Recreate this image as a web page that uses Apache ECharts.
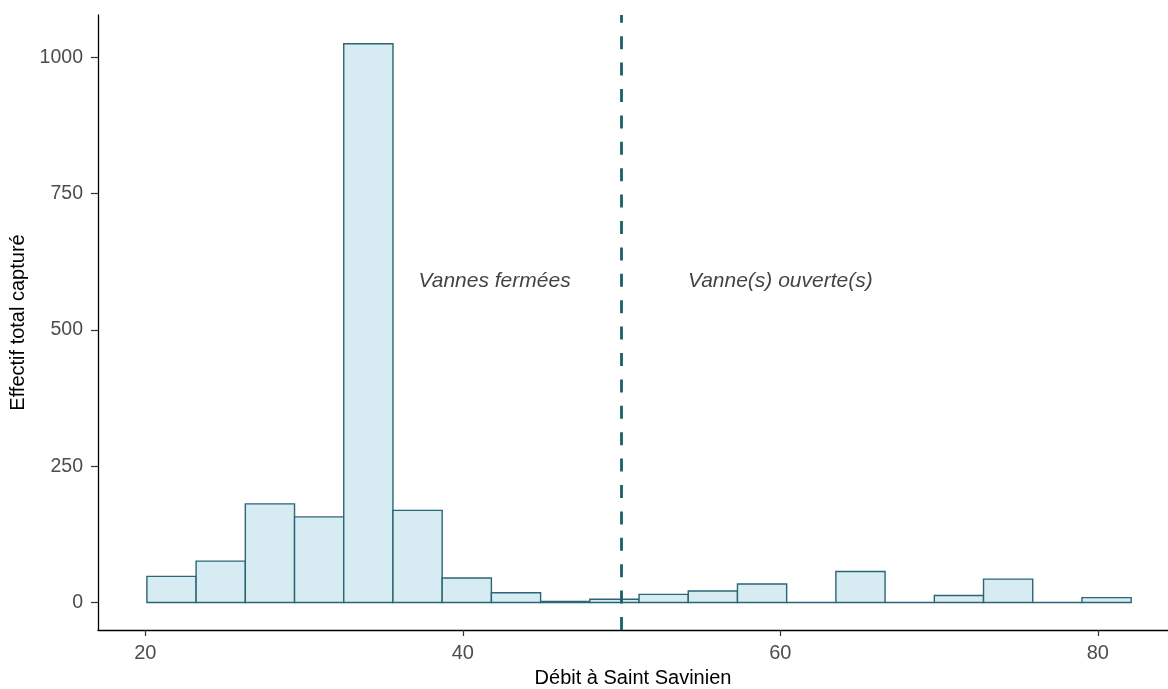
<!DOCTYPE html>
<html>
<head>
<meta charset="utf-8">
<script src="https://cdn.jsdelivr.net/npm/echarts@6/dist/echarts.min.js"></script>
<style>
html,body{margin:0;padding:0;background:#fff;}
#chart{width:1168px;height:689px;}
</style>
</head>
<body>
<div id="chart"></div>
<script>
// Histogram bin edges (Débit) and counts
const binEdges = [20.1, 23.2, 26.3, 29.4, 32.5, 35.6, 38.7, 41.8, 44.9, 48.0, 51.1,
                  54.2, 57.3, 60.4, 63.5, 66.6, 69.7, 72.8, 75.9, 79.0, 82.1];
const counts = [48, 76, 181, 157, 1025, 169, 45, 18, 2, 6,
                15, 21, 34, 0, 57, 0, 13, 43, 0, 9];
const xTicks = [20, 40, 60, 80];
const yTicks = [0, 250, 500, 750, 1000];
const thresholdX = 50;
const annoX = [42, 60];
const annoY = [590, 590];
const annoText = ['Vannes fermées', 'Vanne(s) ouverte(s)'];

const histData = counts.map((c, i) => [binEdges[i], binEdges[i + 1], c]);
const annoData = annoText.map((t, i) => [annoX[i], annoY[i], t]);

const chart = echarts.init(document.getElementById('chart'));
const font = 'Liberation Sans, Arial, sans-serif';
chart.setOption({
  animation: false,
  grid: { left: 98, right: 0, top: 15, bottom: 59, containLabel: false, outerBoundsMode: 'none' },
  xAxis: {
    type: 'value', min: 17.02, max: 84.42,
    name: 'Débit à Saint Savinien', nameLocation: 'middle', nameGap: 38,
    nameTextStyle: { fontFamily: font, fontSize: 20, color: '#000' },
    axisLine: { show: true, onZero: false, lineStyle: { color: '#000', width: 1.3 } },
    axisTick: { show: true, length: 6, customValues: xTicks, lineStyle: { color: '#333', width: 1.2 } },
    axisLabel: { customValues: xTicks, margin: 13, fontFamily: font, fontSize: 20, color: '#4d4d4d',
                 formatter: v => String(v) },
    splitLine: { show: false }
  },
  yAxis: {
    type: 'value', min: -50.4, max: 1077.6,
    name: 'Effectif total capturé', nameLocation: 'middle', nameGap: 54, nameRotate: 90,
    nameTextStyle: { fontFamily: font, fontSize: 20, color: '#000' },
    axisLine: { show: true, onZero: false, lineStyle: { color: '#000', width: 1.3 } },
    axisTick: { show: true, length: 7, customValues: yTicks, lineStyle: { color: '#333', width: 1.2 } },
    axisLabel: { customValues: yTicks, margin: 15, fontFamily: font, fontSize: 19.5, color: '#4d4d4d',
                 formatter: v => String(v) },
    splitLine: { show: false }
  },
  series: [
    {
      type: 'custom',
      data: histData,
      renderItem: function (params, api) {
        const p0 = api.coord([api.value(0), api.value(2)]);
        const p1 = api.coord([api.value(1), 0]);
        return {
          type: 'rect',
          shape: { x: p0[0], y: p0[1], width: p1[0] - p0[0], height: p1[1] - p0[1] },
          style: { fill: '#d6ebf2', stroke: '#2a6675', lineWidth: 1.4 }
        };
      },
      markLine: {
        silent: true,
        symbol: ['none', 'none'],
        label: { show: false },
        lineStyle: { color: '#1d5f68', width: 2.8, type: [13, 13.4] },
        data: [{ xAxis: thresholdX }]
      },
      z: 2
    },
    {
      type: 'scatter',
      data: annoData,
      symbolSize: 0,
      label: {
        show: true, position: 'inside',
        formatter: p => p.value[2],
        fontFamily: font, fontSize: 21, fontStyle: 'italic', color: '#111'
      },
      z: 3
    }
  ]
});
</script>
</body>
</html>
